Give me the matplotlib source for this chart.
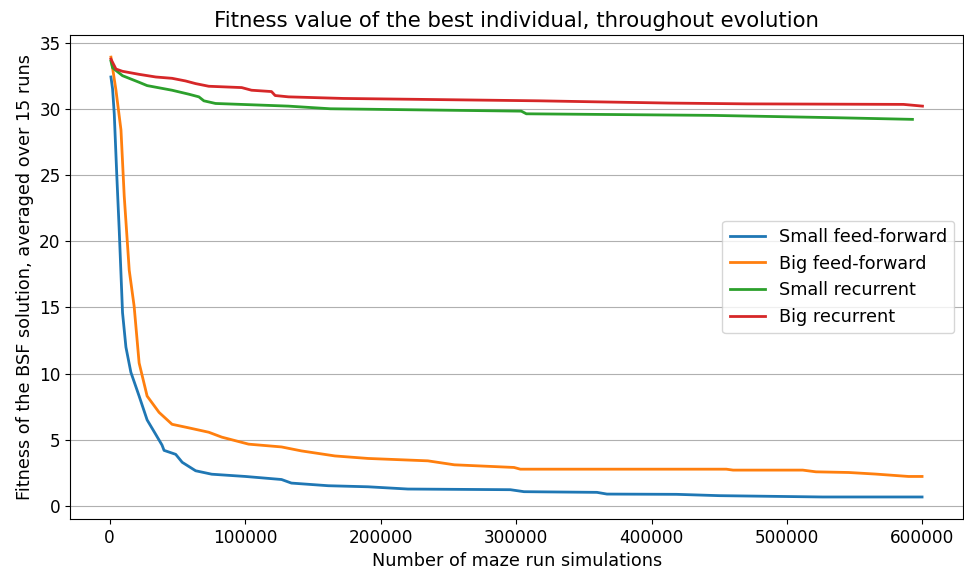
import numpy as np
from matplotlib import pyplot as plt

plt.rcParams.update({"font.size": 12.7,
                     "xtick.labelsize": 12.2,
                     "ytick.labelsize": 12.2,
                     "axes.titlesize": 15.3})

# best-so-far fitness, averaged over 15 runs
small_ff_x = [1000, 2200, 3450, 5300, 7120, 9550, 12050, 15700, 21800, 27700, 34100,
              38700, 40200, 48800, 53600, 63500, 75400, 100200, 126900, 134200,
              161400, 190800, 220200, 295800, 305900, 359700, 367100, 418500,
              450100, 526300, 599700]
small_ff_y = [32.4, 31.5, 29.6, 25.0, 20.8, 14.6, 12.0, 10.1, 8.3, 6.5, 5.4,
              4.6, 4.2, 3.9, 3.3, 2.66, 2.4, 2.23, 2.0, 1.73,
              1.53, 1.45, 1.28, 1.23, 1.08, 1.03, 0.90, 0.88,
              0.78, 0.68, 0.68]

big_ff_x = [1000, 4700, 8400, 10800, 14500, 18100, 21800, 27700, 36500, 46100,
            58500, 73200, 82800, 102600, 126900, 141600, 166300, 190800, 234900,
            254500, 298500, 303200, 455200, 460200, 511600, 521400, 545600,
            565500, 589700, 599700]
big_ff_y = [33.9, 31.4, 28.4, 23.4, 17.8, 15.1, 10.8, 8.3, 7.07, 6.17,
            5.9, 5.57, 5.2, 4.67, 4.46, 4.16, 3.78, 3.59, 3.41,
            3.11, 2.91, 2.78, 2.78, 2.71, 2.71, 2.58, 2.53,
            2.41, 2.23, 2.23]

small_rec_x = [1000, 2200, 9500, 21800, 27700, 46100, 58500, 65900, 69600, 78200,
               132000, 162900, 303900, 307600, 445000, 538300, 592600]
small_rec_y = [33.6, 33.1, 32.5, 32.0, 31.75, 31.4, 31.1, 30.9, 30.6, 30.4,
               30.2, 30.0, 29.82, 29.62, 29.5, 29.32, 29.2]

big_rec_x = [1000, 4700, 9500, 21800, 34100, 46100, 56100, 63500, 73200, 97500,
             104800, 119500, 122200, 132000, 172400, 317100, 355300, 413300,
             470700, 586000, 600000]
big_rec_y = [33.75, 33.0, 32.83, 32.6, 32.4, 32.3, 32.1, 31.9, 31.7, 31.6,
             31.4, 31.3, 31.0, 30.9, 30.78, 30.6, 30.53, 30.43,
             30.37, 30.33, 30.2]

fig, ax = plt.subplots(figsize=(9.64, 5.76), dpi=100)

ax.plot(small_ff_x, small_ff_y, linewidth=2, label='Small feed-forward')
ax.plot(big_ff_x, big_ff_y, linewidth=2, label='Big feed-forward')
ax.plot(small_rec_x, small_rec_y, linewidth=2, label='Small recurrent')
ax.plot(big_rec_x, big_rec_y, linewidth=2, label='Big recurrent')

ax.set_title('Fitness value of the best individual, throughout evolution')
ax.set_xlabel('Number of maze run simulations')
ax.set_ylabel('Fitness of the BSF solution, averaged over 15 runs')
ax.grid(axis='y')
ax.legend(loc='center right')
fig.subplots_adjust(left=0.073, right=0.999, top=0.939, bottom=0.099)
fig.savefig('out.png', dpi=100)
